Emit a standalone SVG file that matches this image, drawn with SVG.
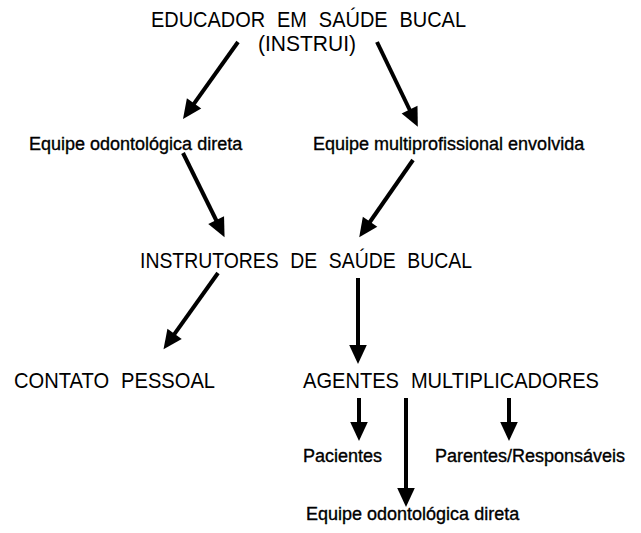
<svg xmlns="http://www.w3.org/2000/svg" width="641" height="533" viewBox="0 0 641 533">
<defs>
<style>
.big{font-family:"Liberation Sans",Arial,sans-serif;font-size:22px;word-spacing:7px;fill:#000}
.small{font-family:"Liberation Sans",Arial,sans-serif;font-size:18px;fill:#000;stroke:#000;stroke-width:0.35}
.arrow{stroke:#000;stroke-width:4;fill:none;marker-end:url(#head)}
</style>
<marker id="head" markerUnits="userSpaceOnUse" markerWidth="19" markerHeight="18" viewBox="0 -9 19 18" refX="1" refY="0" orient="auto" overflow="visible">
<path d="M0,-8.8 L19,0 L0,8.8 Z" fill="#000"/>
</marker>
</defs>
<rect width="641" height="533" fill="#fff"/>
<g id="educador">
<text class="big" x="151" y="27" textLength="315" lengthAdjust="spacingAndGlyphs">EDUCADOR EM SAÚDE BUCAL</text>
<text class="big" x="258" y="51" textLength="98" lengthAdjust="spacingAndGlyphs">(INSTRUI)</text>
</g>
<g id="equipe-odonto-1">
<text class="small" x="29" y="150">Equipe odontológica direta</text>
</g>
<g id="equipe-multi">
<text class="small" x="313" y="150">Equipe multiprofissional envolvida</text>
</g>
<g id="instrutores">
<text class="big" x="140" y="268" textLength="332" lengthAdjust="spacingAndGlyphs">INSTRUTORES DE SAÚDE BUCAL</text>
</g>
<g id="contato">
<text class="big" x="14" y="388" textLength="201" lengthAdjust="spacingAndGlyphs">CONTATO PESSOAL</text>
</g>
<g id="agentes">
<text class="big" x="303" y="388" textLength="296" lengthAdjust="spacingAndGlyphs">AGENTES MULTIPLICADORES</text>
</g>
<g id="pacientes">
<text class="small" x="303" y="462">Pacientes</text>
</g>
<g id="parentes">
<text class="small" x="435" y="462">Parentes/Responsáveis</text>
</g>
<g id="equipe-odonto-2">
<text class="small" x="306" y="520">Equipe odontológica direta</text>
</g>
<g id="connectors">
<line class="arrow" x1="238" y1="42" x2="193.5" y2="104.3"/>
<line class="arrow" x1="377" y1="42" x2="410" y2="110.5"/>
<line class="arrow" x1="183" y1="153" x2="216.6" y2="221"/>
<line class="arrow" x1="413" y1="160" x2="369.5" y2="222.5"/>
<line class="arrow" x1="218" y1="273" x2="174" y2="334.6"/>
<line class="arrow" x1="358" y1="278" x2="358" y2="346"/>
<line class="arrow" x1="359" y1="398" x2="359" y2="423"/>
<line class="arrow" x1="406" y1="398" x2="406" y2="489"/>
<line class="arrow" x1="509" y1="398" x2="509" y2="423"/>
</g>
</svg>
